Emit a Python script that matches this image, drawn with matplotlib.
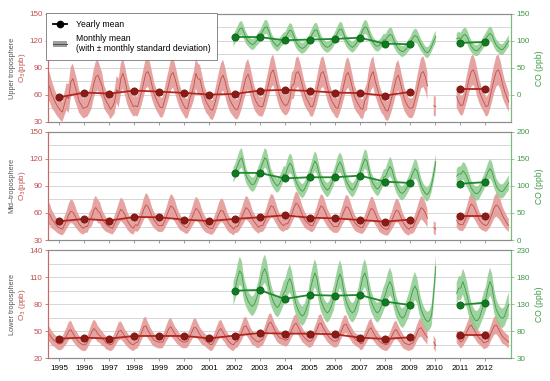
import numpy as np
import matplotlib.pyplot as plt
from matplotlib.lines import Line2D
from matplotlib.patches import Patch

plt.rcParams['font.family'] = ['Liberation Sans', 'DejaVu Sans']

nan = np.nan

# years covered by the monthly rows (12 values per row, Jan..Dec)
o3_years = list(range(1994, 2013))
co_years = list(range(2001, 2013))

# monthly mean O3 (ppb), upper troposphere
o3_upper = [
    [nan, nan, nan, nan, nan, nan, 72, 68, 60, 55, 50, 46],
    [43, 41, 50, 58, 56, 74, 78, 70, 62, 53, 49, 45],
    [46, 47, 53, 60, 72, 80, 82, 76, 70, 58, 53, 49],
    [44, 47, 52, 66, 62, 78, 84, 76, 65, 57, 52, 47],
    [48, 47, 55, 64, 74, 84, 86, 80, 70, 61, 55, 50],
    [46, 46, 54, 63, 72, 82, 85, 78, 69, 60, 54, 49],
    [45, 45, 55, 62, 70, 84, 78, 77, 67, 58, 52, 48],
    [44, 43, 50, 59, 69, 78, 82, 75, 65, 56, 51, 47],
    [44, 44, 51, 60, 70, 79, 83, 76, 66, 57, 52, 48],
    [47, 47, 55, 64, 74, 84, 88, 80, 70, 60, 54, 50],
    [48, 50, 56, 70, 72, 84, 86, 80, 71, 62, 56, 52],
    [47, 47, 55, 64, 75, 84, 86, 79, 69, 60, 54, 50],
    [46, 45, 53, 62, 72, 82, 85, 78, 68, 58, 53, 49],
    [45, 44, 54, 58, 74, 82, 86, 75, 67, 58, 52, 48],
    [43, 42, 49, 58, 68, 78, 82, 74, 64, 55, 50, 46],
    [45, 46, 54, 64, 75, 84, 86, 80, 70, nan, nan, 48],
    [47, nan, nan, nan, nan, nan, nan, nan, nan, nan, 58, 52],
    [48, 49, 58, 68, 78, 86, 88, 82, 72, 63, 57, 52],
    [47, 48, 57, 68, 78, 86, 88, 82, 72, 64, 58, 52],
]
# monthly mean O3 (ppb), mid-troposphere
o3_mid = [
    [nan, nan, nan, nan, nan, nan, 60, 58, 53, 50, 47, 44],
    [43, 42, 47, 52, 58, 62, 61, 57, 52, 48, 45, 43],
    [45, 45, 52, 55, 63, 66, 62, 60, 54, 50, 47, 45],
    [44, 43, 48, 53, 59, 64, 62, 58, 52, 48, 45, 43],
    [47, 46, 51, 57, 64, 69, 67, 62, 56, 52, 49, 46],
    [46, 46, 51, 57, 63, 68, 66, 62, 56, 51, 48, 46],
    [44, 44, 49, 54, 60, 65, 63, 59, 53, 49, 46, 44],
    [43, 43, 48, 53, 59, 63, 62, 57, 51, 47, 45, 42],
    [45, 45, 50, 55, 61, 66, 64, 60, 54, 50, 47, 44],
    [46, 46, 51, 57, 63, 68, 67, 62, 56, 51, 48, 46],
    [48, 48, 53, 59, 66, 71, 69, 64, 58, 53, 50, 48],
    [46, 46, 51, 57, 63, 68, 66, 61, 55, 51, 48, 45],
    [45, 45, 50, 56, 62, 67, 66, 61, 55, 50, 47, 45],
    [44, 44, 49, 54, 60, 65, 64, 59, 53, 48, 45, 43],
    [42, 42, 47, 52, 58, 63, 62, 57, 51, 47, 44, 42],
    [44, 44, 49, 55, 61, 66, 64, 60, 54, nan, nan, 44],
    [42, nan, nan, nan, nan, nan, nan, nan, nan, nan, 52, 48],
    [47, 47, 52, 58, 65, 70, 68, 63, 57, 52, 49, 47],
    [46, 48, 53, 59, 66, 69, 67, 63, 57, 53, 49, 46],
]
# monthly mean O3 (ppb), lower troposphere
o3_low = [
    [nan, nan, nan, nan, nan, nan, 48, 46, 42, 40, 38, 36],
    [36, 37, 41, 45, 50, 52, 48, 44, 41, 38, 36, 35],
    [35, 38, 44, 49, 53, 51, 47, 45, 42, 40, 37, 36],
    [35, 36, 40, 45, 50, 51, 48, 44, 41, 38, 36, 35],
    [37, 38, 43, 49, 55, 56, 51, 47, 43, 40, 39, 38],
    [38, 38, 43, 48, 53, 55, 51, 47, 44, 41, 39, 38],
    [38, 39, 44, 49, 54, 54, 50, 46, 43, 41, 39, 37],
    [35, 36, 41, 46, 51, 53, 49, 45, 41, 38, 36, 35],
    [38, 39, 44, 49, 55, 56, 52, 47, 43, 41, 39, 38],
    [40, 41, 47, 53, 59, 60, 55, 50, 46, 43, 42, 41],
    [40, 41, 46, 52, 57, 59, 55, 50, 46, 43, 41, 39],
    [39, 41, 47, 52, 58, 59, 54, 50, 46, 43, 41, 39],
    [39, 40, 46, 52, 57, 58, 53, 49, 45, 42, 40, 39],
    [36, 37, 42, 47, 52, 54, 49, 45, 42, 39, 37, 36],
    [35, 36, 40, 45, 50, 52, 48, 44, 40, 37, 36, 35],
    [36, 37, 42, 48, 53, 54, 50, 46, 43, nan, nan, 38],
    [34, nan, nan, nan, nan, nan, nan, nan, nan, nan, 44, 41],
    [38, 40, 45, 50, 55, 57, 53, 49, 45, 42, 40, 37],
    [38, 39, 45, 51, 56, 57, 53, 48, 44, 42, 40, 38],
]

# monthly mean CO (ppb)
co_upper = [
    [nan, nan, nan, nan, nan, nan, nan, nan, nan, nan, nan, 100],
    [108, 115, 122, 124, 116, 106, 100, 96, 93, 95, 100, 105],
    [110, 118, 125, 126, 118, 106, 98, 94, 90, 94, 100, 104],
    [106, 114, 120, 118, 108, 98, 92, 88, 86, 88, 92, 98],
    [106, 114, 120, 120, 110, 100, 94, 90, 88, 90, 94, 100],
    [108, 116, 122, 121, 111, 101, 95, 91, 88, 91, 96, 102],
    [110, 120, 126, 124, 114, 104, 97, 92, 90, 92, 97, 102],
    [102, 108, 112, 110, 100, 92, 86, 82, 80, 82, 86, 92],
    [98, 106, 110, 108, 100, 92, 86, 80, 78, 82, 90, 100],
    [108, nan, nan, nan, nan, nan, nan, nan, nan, nan, 104, 106],
    [104, 110, 112, 108, 98, 90, 85, 82, 82, 86, 92, 98],
    [104, 110, 114, 110, 100, 92, 88, 84, 84, 88, 94, 100],
]
co_mid = [
    [nan, nan, nan, nan, nan, nan, nan, nan, nan, nan, nan, 120],
    [128, 138, 148, 152, 138, 120, 112, 106, 102, 104, 112, 122],
    [132, 142, 152, 148, 132, 118, 110, 104, 100, 104, 112, 122],
    [122, 134, 142, 138, 122, 108, 100, 94, 90, 94, 102, 112],
    [124, 136, 146, 140, 124, 110, 102, 96, 92, 96, 104, 114],
    [126, 138, 144, 138, 124, 110, 102, 96, 92, 96, 104, 114],
    [128, 140, 150, 146, 128, 112, 104, 98, 94, 98, 106, 116],
    [118, 128, 136, 130, 116, 102, 94, 88, 86, 90, 96, 104],
    [114, 124, 132, 128, 114, 100, 92, 86, 84, 90, 102, 122],
    [145, nan, nan, nan, nan, nan, nan, nan, nan, nan, 118, 122],
    [122, 128, 124, 116, 106, 96, 90, 86, 86, 90, 98, 106],
    [116, 126, 132, 126, 112, 100, 94, 90, 90, 94, 100, 106],
]
co_low = [
    [nan, nan, nan, nan, nan, nan, nan, nan, nan, nan, nan, 150],
    [162, 180, 192, 186, 160, 146, 136, 130, 126, 130, 140, 152],
    [172, 188, 196, 186, 164, 148, 136, 128, 124, 128, 138, 150],
    [156, 170, 178, 168, 146, 130, 120, 112, 108, 112, 122, 134],
    [160, 176, 188, 178, 154, 136, 126, 118, 114, 118, 128, 140],
    [158, 174, 186, 176, 152, 136, 126, 118, 114, 118, 128, 140],
    [162, 180, 188, 176, 152, 136, 126, 118, 114, 118, 128, 140],
    [150, 164, 172, 164, 142, 126, 116, 108, 104, 108, 118, 128],
    [142, 156, 164, 156, 136, 120, 110, 102, 98, 100, 110, 150],
    [200, nan, nan, nan, nan, nan, nan, nan, nan, nan, 150, 160],
    [160, 172, 160, 146, 128, 114, 106, 100, 100, 106, 118, 130],
    [140, 160, 172, 162, 136, 120, 112, 106, 104, 108, 120, 130],
]

# typical monthly standard deviation (band half-width), Jan..Dec
o3_upper_sd = [11, 11, 13, 15, 16, 17, 17, 16, 15, 13, 12, 11]
o3_mid_sd = [7, 7, 9, 10, 12, 13, 13, 12, 10, 9, 8, 7]
o3_low_sd = [7, 7, 8, 9, 10, 10, 9, 8, 8, 7, 7, 7]
co_upper_sd = [11, 12, 13, 13, 12, 11, 10, 10, 10, 10, 10, 11]
co_mid_sd = [14, 16, 18, 18, 16, 14, 13, 13, 13, 13, 13, 14]
co_low_sd = [22, 24, 26, 24, 22, 20, 18, 18, 18, 18, 20, 22]

# yearly means
o3_mean_years = [1995, 1996, 1997, 1998, 1999, 2000, 2001, 2002, 2003,
                 2004, 2005, 2006, 2007, 2008, 2009, 2011, 2012]
o3_upper_mean = [57.4, 62.6, 61.5, 64.8, 63.7, 62.2, 60.4, 61.1, 64.8,
                 65.6, 64.4, 62.6, 62.0, 59.2, 63.3, 67.0, 67.0]
o3_mid_mean = [50.8, 53.4, 51.5, 55.6, 55.2, 52.6, 51.1, 53.4, 55.2,
               57.4, 54.8, 54.1, 52.2, 50.4, 52.6, 56.3, 56.3]
o3_low_mean = [41.9, 43.0, 41.9, 44.8, 44.8, 44.8, 42.2, 45.2, 48.1,
               47.4, 47.4, 46.7, 43.0, 41.5, 43.3, 45.9, 45.9]
co_mean_years = [2002, 2003, 2004, 2005, 2006, 2007, 2008, 2009, 2011, 2012]
co_upper_mean = [107.4, 107.0, 101.3, 102.5, 103.7, 106.0, 95.0, 93.8, 96.3, 98.0]
co_mid_mean = [124.4, 124.0, 114.0, 116.0, 116.0, 119.0, 108.0, 105.5, 104.0, 107.0]
co_low_mean = [155.3, 156.5, 139.9, 147.3, 146.0, 147.3, 135.0, 128.8, 128.8, 133.0]

year_ticks = list(range(1995, 2013))

# colours
red_band = '#e39a97'
red_line = '#c0504d'
red_mean = '#b3261e'
red_dot = '#8c1a16'
red_axis = '#c86b68'
green_band = '#8dcb8d'
green_line = '#3f9a48'
green_mean = '#1c8c2c'
green_dot = '#0f7a20'
green_axis = '#7dba7d'
grid_col = '#d6d6d6'


def monthly(years, rows, sd):
    t = np.array([y + (m + 0.5) / 12 for y in years for m in range(12)])
    v = np.array(rows, dtype=float).ravel()
    s = np.tile(sd, len(years))
    return t, v, s


def mean_segments(years, vals):
    years = np.array(years)
    vals = np.array(vals)
    cut = np.where(np.diff(years) > 1)[0] + 1
    return zip(np.split(years, cut), np.split(vals, cut))


def draw_panel(ax, o3_rows, o3_sd, o3_mean, co_rows, co_sd, co_mean,
               o3_lim, co_lim, layer, o3_label):
    ax.set_xlim(1994.55, 2013.05)
    ax.set_ylim(*o3_lim)
    step = (o3_lim[1] - o3_lim[0]) / 4
    ax.set_yticks(np.arange(o3_lim[0], o3_lim[1] + 1, step))
    ax.set_yticks(np.arange(o3_lim[0] + step / 2, o3_lim[1], step), minor=True)
    ax.grid(axis='y', which='both', color=grid_col, lw=0.7)
    ax.set_axisbelow(True)

    t, v, s = monthly(o3_years, o3_rows, o3_sd)
    ax.fill_between(t, v - s, v + s, color=red_band, lw=0, alpha=0.9)
    ax.plot(t, v, color=red_line, lw=0.6)
    for yy, vv in mean_segments(o3_mean_years, o3_mean):
        ax.plot(yy, vv, color=red_mean, lw=1.3, marker='o', ms=5.2,
                mfc=red_dot, mec='#6e120f', mew=0.5)

    ax2 = ax.twinx()
    ax2.set_ylim(*co_lim)
    cstep = (co_lim[1] - co_lim[0]) / 4
    cticks = np.arange(co_lim[0], co_lim[1] + 1, cstep)
    if co_lim[0] < 0:
        cticks = cticks[1:]
    ax2.set_yticks(cticks)
    t, v, s = monthly(co_years, co_rows, co_sd)
    ax2.fill_between(t, v - s, v + s, color=green_band, lw=0, alpha=0.85)
    ax2.plot(t, v, color=green_line, lw=0.6)
    for yy, vv in mean_segments(co_mean_years, co_mean):
        ax2.plot(yy, vv, color=green_mean, lw=1.3, marker='o', ms=5.2,
                 mfc=green_dot, mec='#0a5e17', mew=0.5)

    for a in (ax, ax2):
        a.spines['top'].set_color('#8c8c8c')
        a.spines['bottom'].set_color('#8c8c8c')
        a.spines['left'].set_color(red_axis)
        a.spines['right'].set_color(green_axis)
        a.tick_params(axis='x', length=2.5, width=0.6, color='#8c8c8c',
                      labelsize=5.8, pad=2)
    ax.tick_params(axis='y', which='major', length=2.5, width=0.6,
                   colors=red_axis, labelcolor=red_line, labelsize=5.8, pad=1.5)
    ax.tick_params(axis='y', which='minor', length=0)
    ax2.tick_params(axis='y', length=2.5, width=0.6, colors=green_axis,
                    labelcolor=green_line, labelsize=5.8, pad=1.5)
    ax.set_xticks(year_ticks)

    ax.text(-0.077, 0.5, layer, transform=ax.transAxes, rotation=90,
            ha='center', va='center', fontsize=5.3, color='#555555')
    ax.text(-0.055, 0.5, o3_label, transform=ax.transAxes, rotation=90,
            ha='center', va='center', fontsize=5.8, color=red_line)
    ax2.text(1.062, 0.5, 'CO (ppb)', transform=ax.transAxes, rotation=90,
             ha='center', va='center', fontsize=6.2, color=green_line)
    return ax2


fig = plt.figure(figsize=(5.5, 3.81), dpi=100)
ax_top = fig.add_axes([0.0873, 0.680, 0.842, 0.2835])
ax_mid = fig.add_axes([0.0873, 0.370, 0.842, 0.284])
ax_low = fig.add_axes([0.0873, 0.0596, 0.842, 0.2835])

top2 = draw_panel(ax_top, o3_upper, o3_upper_sd, o3_upper_mean,
                  co_upper, co_upper_sd, co_upper_mean,
                  (30, 150), (-50, 150), 'Upper troposphere', 'O$_3$(ppb)')
draw_panel(ax_mid, o3_mid, o3_mid_sd, o3_mid_mean,
           co_mid, co_mid_sd, co_mid_mean,
           (30, 150), (0, 200), 'Mid\u2013troposphere', 'O$_3$(ppb)')
draw_panel(ax_low, o3_low, o3_low_sd, o3_low_mean,
           co_low, co_low_sd, co_low_mean,
           (20, 140), (30, 230), 'Lower troposphere', 'O$_3$ (ppb)')

for a in (ax_top, ax_mid):
    a.tick_params(axis='x', labelbottom=False)

# legend
h_year = Line2D([], [], color='black', lw=1.3, marker='o', ms=4.5)
h_month = (Patch(facecolor='#a0a0a0', edgecolor='none'),
           Line2D([], [], color='#555555', lw=0.8))
leg = top2.legend([h_year, h_month],
                  ['Yearly mean', 'Monthly mean\n(with \u00b1 monthly standard deviation)'],
                  loc='upper left', bbox_to_anchor=(-0.005, 1.005), fontsize=6.2,
                  frameon=True, fancybox=False, framealpha=1, edgecolor='#777777',
                  handlelength=1.7, handletextpad=1.0, borderpad=0.8,
                  labelspacing=0.5, borderaxespad=0)
leg.get_frame().set_linewidth(0.6)
leg.set_zorder(10)

fig.savefig('out.png', dpi=100)
